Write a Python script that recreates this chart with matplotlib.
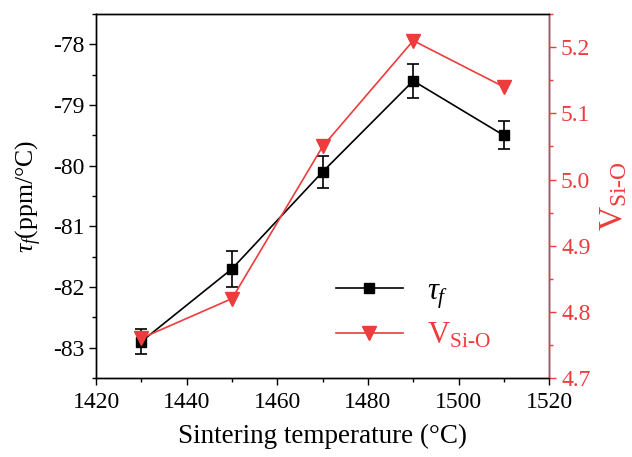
import matplotlib
matplotlib.use("Agg")
import matplotlib.pyplot as plt
from matplotlib.ticker import MultipleLocator, FormatStrFormatter

plt.rcParams['font.family'] = ['Liberation Serif', 'DejaVu Serif']
plt.rcParams['mathtext.fontset'] = 'custom'
plt.rcParams['mathtext.rm'] = 'Liberation Serif'
plt.rcParams['mathtext.it'] = 'Liberation Serif:italic'
plt.rcParams['axes.unicode_minus'] = False

RED = '#EE3B3B'

# data
temps = [1430, 1450, 1470, 1490, 1510]
tau_f = [-82.9, -81.7, -80.1, -78.6, -79.5]
tau_err = [0.2, 0.3, 0.26, 0.28, 0.23]
v_sio = [4.76, 4.82, 5.05, 5.21, 5.14]

fig, ax = plt.subplots(figsize=(6.32, 4.57), dpi=100)
fig.subplots_adjust(left=0.152, right=0.869, top=0.969, bottom=0.173)

l1 = ax.errorbar(temps, tau_f, yerr=tau_err, color='black', marker='s', ms=7.5,
                 lw=1.2, capsize=4, elinewidth=1.2, capthick=1.2)
ax.set_xlim(1420, 1520)
ax.set_ylim(-83.5, -77.5)
ax.xaxis.set_major_locator(MultipleLocator(20))
ax.xaxis.set_minor_locator(MultipleLocator(10))
ax.yaxis.set_major_locator(MultipleLocator(1))
ax.yaxis.set_minor_locator(MultipleLocator(0.5))
ax.tick_params(which='both', direction='out', labelsize=17, width=1)
ax.tick_params(which='major', length=5)
ax.tick_params(which='minor', length=3)
ax.tick_params(axis='x', pad=5)
ax.set_xlabel('Sintering temperature (°C)', fontsize=19.5, labelpad=8)
ax.set_ylabel(r'$\tau_f$(ppm/°C)', fontsize=18.5, labelpad=6)

ax2 = ax.twinx()
l2, = ax2.plot(temps, v_sio, color=RED, marker='v', ms=9.5, lw=1.2)
ax2.set_ylim(4.7, 5.25)
ax2.yaxis.set_major_locator(MultipleLocator(0.1))
ax2.yaxis.set_minor_locator(MultipleLocator(0.05))
ax2.yaxis.set_major_formatter(FormatStrFormatter('%.1f'))
ax2.tick_params(which='both', direction='out', labelsize=17, width=1,
                colors=RED)
ax2.tick_params(which='major', length=5)
ax2.tick_params(which='minor', length=3)
ax2.set_ylabel(r'V$_{\mathrm{Si\text{-}O}}$', fontsize=24, color=RED, labelpad=6)

for a in (ax, ax2):
    for s in a.spines.values():
        s.set_linewidth(1)
ax2.spines['right'].set_color(RED)

leg = ax2.legend([l1.lines[0], l2], [r'$\tau_f$', r'V$_{\mathrm{Si\text{-}O}}$'],
                 loc='upper left', bbox_to_anchor=(0.468, 0.353), frameon=False,
                 fontsize=22, handlelength=2.2, labelspacing=0.35)
leg.get_texts()[1].set_color(RED)

fig.savefig('out.png', dpi=100)
